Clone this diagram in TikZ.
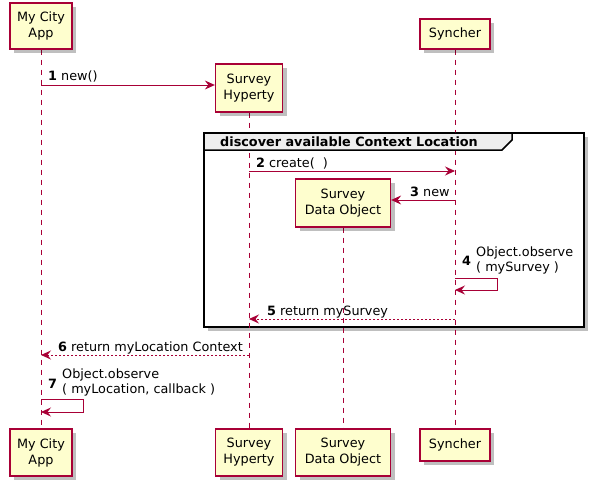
\documentclass[tikz,border=0pt]{standalone}
\usepackage{fontspec}
\setmainfont{DejaVu Sans}
\usepackage{tikz}
\usetikzlibrary{arrows.meta,shadows}
\definecolor{umlred}{HTML}{A80036}
\definecolor{umlfill}{HTML}{FEFECE}
\definecolor{umltab}{HTML}{EEEEEE}
\pgfdeclarelayer{background}
\pgfdeclarelayer{lines}
\pgfsetlayers{background,lines,main}
\tikzset{
  part/.style={draw=umlred,line width=1.3pt,fill=umlfill,align=center,inner sep=0pt,
    font=\fontsize{12.8}{16}\selectfont,
    drop shadow={shadow xshift=4pt,shadow yshift=-4pt,fill=black,opacity=0.25}},
  life/.style={umlred,line width=0.8pt,dash pattern=on 5pt off 5pt},
  msg/.style={umlred,line width=0.9pt,-{Stealth[length=10pt,width=9pt,inset=3.5pt]}},
  ret/.style={msg,dash pattern=on 2pt off 2pt},
  lbl/.style={inner sep=0pt,font=\fontsize{12.8}{15}\selectfont,align=left},
}
\begin{document}
\begin{tikzpicture}[x=1pt,y=-1pt]
\useasboundingbox (0,0) rectangle (594,487);

\node[part,minimum width=62pt,minimum height=46pt] (appT) at (41,26) {My City\\App};
\node[part,minimum width=67pt,minimum height=48pt] (hypT) at (249,88) {Survey\\Hyperty};
\node[part,minimum width=70pt,minimum height=30pt] (syncT) at (455,34) {Syncher};
\node[part,minimum width=95pt,minimum height=48pt] (dataT) at (343,203) {Survey\\Data Object};

\node[part,minimum width=62pt,minimum height=47pt] (appB) at (41,452.5) {My City\\App};
\node[part,minimum width=67pt,minimum height=47pt] (hypB) at (249,452.5) {Survey\\Hyperty};
\node[part,minimum width=95pt,minimum height=47pt] (dataB) at (343,452.5) {Survey\\Data Object};
\node[part,minimum width=70pt,minimum height=32pt] (syncB) at (455,445) {Syncher};

\begin{pgfonlayer}{background}
\draw[line width=1.5pt,fill=white,drop shadow={shadow xshift=4pt,shadow yshift=-4pt,fill=black,opacity=0.25}]
  (204,133) rectangle (584,327);
\end{pgfonlayer}

\begin{pgfonlayer}{lines}
\draw[life] (appT) -- (appB);
\draw[life] (hypT) -- (hypB);
\draw[life] (syncT) -- (syncB);
\draw[life] (dataT) -- (dataB);
\end{pgfonlayer}

\draw[line width=1.5pt,fill=umltab] (204,133) -- (512,133) -- (512,140) -- (502,150) -- (204,150) -- cycle;
\node[lbl,anchor=base west,font=\fontsize{12.8}{15}\selectfont\bfseries] (grp) at (220,146) {discover available Context Location};

\coordinate (y1) at (0,85);
\coordinate (y2) at (0,171);
\coordinate (y3) at (0,200);
\coordinate (y4) at (0,278);
\coordinate (y4b) at (0,290);
\coordinate (y5) at (0,319);
\coordinate (y6) at (0,355);
\coordinate (y7) at (0,399);
\coordinate (y7b) at (0,412);

\draw[msg] (appT |- y1) -- (hypT.west |- y1);
\node[lbl,anchor=base west] (l1) at (48,81) {\textbf{1} new()};

\draw[msg] (hypT |- y2) -- (syncT |- y2);
\node[lbl,anchor=base west] (l2) at (256,167) {\textbf{2} create(\ \ )};

\draw[msg] (syncT |- y3) -- (dataT.east |- y3);
\node[lbl,anchor=base west] (l3) at (410,196) {\textbf{3} new};

\draw[msg] (syncT |- y4) -- ++(42,0) |- (syncT |- y4b);
\node[lbl,anchor=base west] (n4) at (462,265) {\textbf{4}};
\node[lbl,anchor=north west] (l4) at (476,247) {Object.observe\\( mySurvey )};

\draw[ret] (syncT |- y5) -- (hypT |- y5);
\node[lbl,anchor=base west] (l5) at (267,315) {\textbf{5} return mySurvey};

\draw[ret] (hypT |- y6) -- (appT |- y6);
\node[lbl,anchor=base west] (l6) at (58,351) {\textbf{6} return myLocation Context};

\draw[msg] (appT |- y7) -- ++(42,0) |- (appT |- y7b);
\node[lbl,anchor=base west] (n7) at (48,388) {\textbf{7}};
\node[lbl,anchor=north west] (l7) at (62,369) {Object.observe\\( myLocation, callback )};
\end{tikzpicture}
\end{document}
